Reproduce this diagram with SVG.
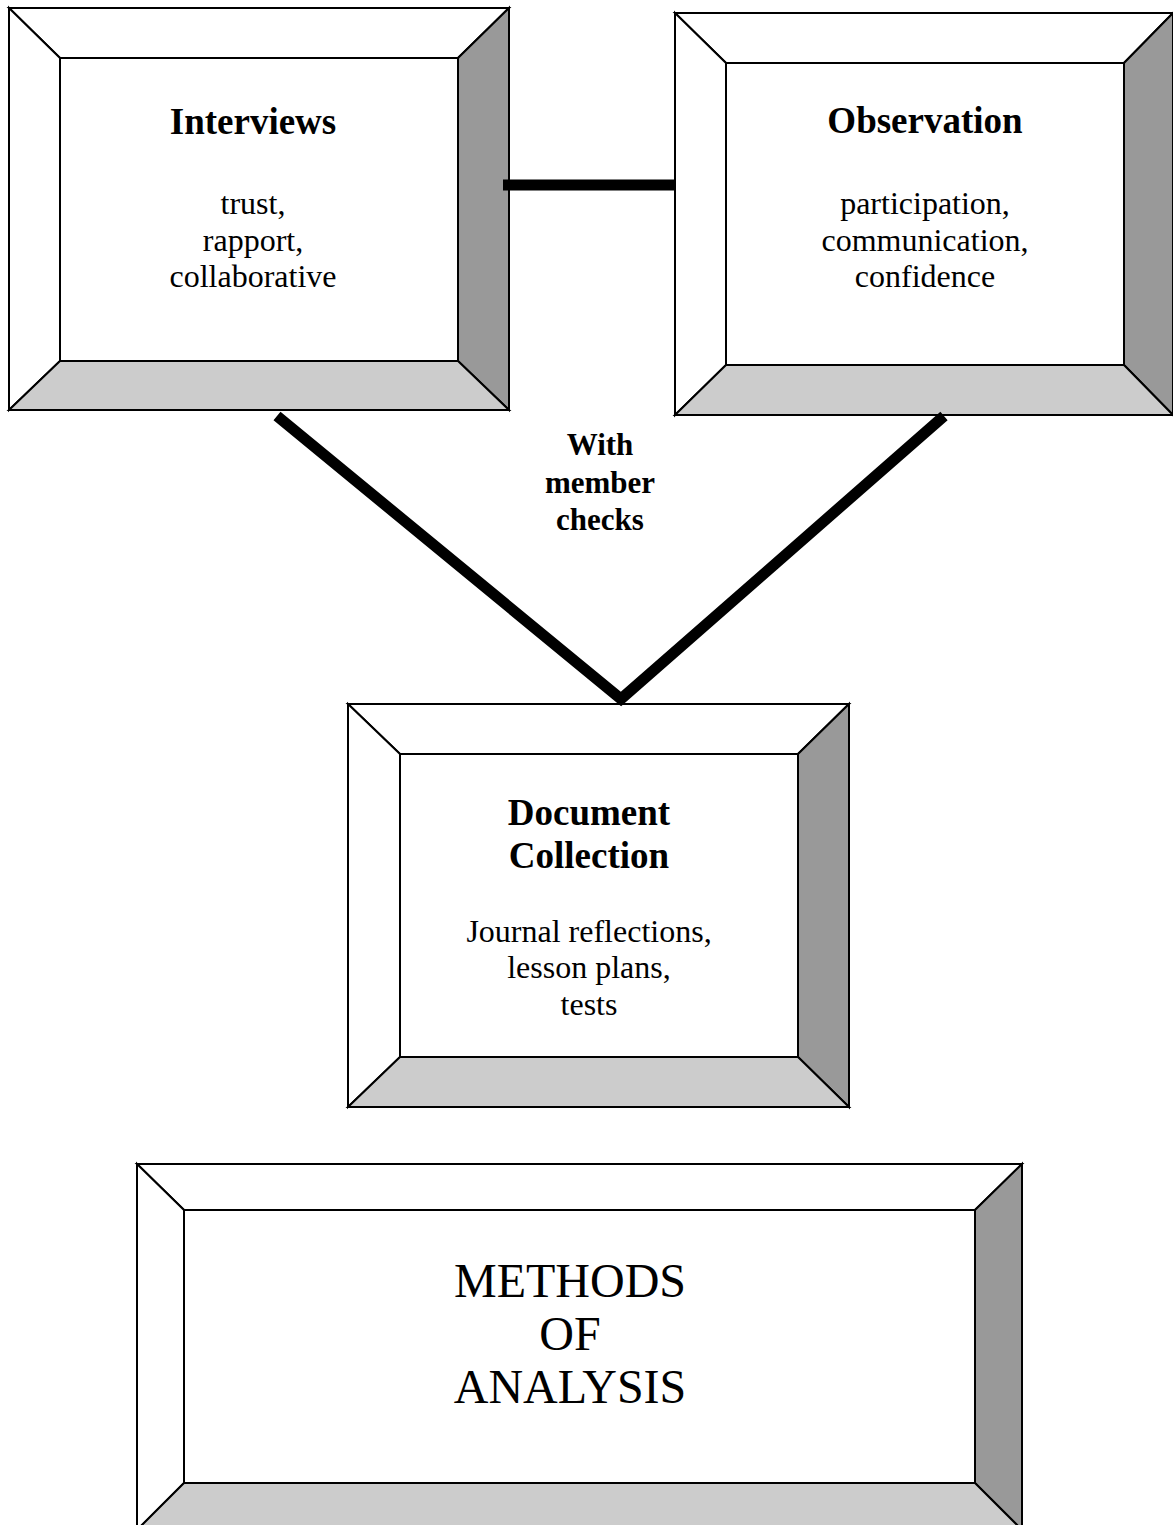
<svg xmlns="http://www.w3.org/2000/svg" width="1173" height="1525" viewBox="0 0 1173 1525">
<style>
.b{stroke:#000;stroke-width:2;stroke-linejoin:miter}
.w{fill:#fff}
.lg{fill:#cccccc}
.dg{fill:#999999}
.t{font-family:"Liberation Serif","Times New Roman",serif;fill:#000;text-anchor:middle}
.h{font-weight:bold;font-size:37px}
.s{font-size:32px}
.m{font-weight:bold;font-size:31px}
.big{font-size:48px}
.c{fill:none;stroke:#000;stroke-width:11}
</style>
<rect width="1173" height="1525" fill="#fff"/>
<g id="interviews">
<polygon class="b w" points="9,8 509,8 458,58 60,58"/>
<polygon class="b w" points="9,8 60,58 60,361 9,410"/>
<polygon class="b dg" points="509,8 509,410 458,361 458,58"/>
<polygon class="b lg" points="9,410 60,361 458,361 509,410"/>
<rect class="b w" x="60" y="58" width="398" height="303"/>
<text class="t h" x="253" y="134">Interviews</text>
<text class="t s" x="253" y="214">trust,</text>
<text class="t s" x="253" y="251">rapport,</text>
<text class="t s" x="253" y="287">collaborative</text>
</g>
<g id="observation">
<polygon class="b w" points="675,13 1173,13 1124,63 726,63"/>
<polygon class="b w" points="675,13 726,63 726,365 675,415"/>
<polygon class="b dg" points="1173,13 1173,415 1124,365 1124,63"/>
<polygon class="b lg" points="675,415 726,365 1124,365 1173,415"/>
<rect class="b w" x="726" y="63" width="398" height="302"/>
<text class="t h" x="925" y="133">Observation</text>
<text class="t s" x="925" y="214">participation,</text>
<text class="t s" x="925" y="251">communication,</text>
<text class="t s" x="925" y="287">confidence</text>
</g>
<g id="document">
<polygon class="b w" points="348,704 849,704 798,754 400,754"/>
<polygon class="b w" points="348,704 400,754 400,1057 348,1107"/>
<polygon class="b dg" points="849,704 849,1107 798,1057 798,754"/>
<polygon class="b lg" points="348,1107 400,1057 798,1057 849,1107"/>
<rect class="b w" x="400" y="754" width="398" height="303"/>
<text class="t h" x="589" y="825">Document</text>
<text class="t h" x="589" y="868">Collection</text>
<text class="t s" x="589" y="942">Journal reflections,</text>
<text class="t s" x="589" y="978">lesson plans,</text>
<text class="t s" x="589" y="1015">tests</text>
</g>
<g id="methods">
<polygon class="b w" points="137,1164 1022,1164 975,1210 184,1210"/>
<polygon class="b w" points="137,1164 184,1210 184,1483 137,1530"/>
<polygon class="b dg" points="1022,1164 1022,1530 975,1483 975,1210"/>
<polygon class="b lg" points="137,1530 184,1483 975,1483 1022,1530"/>
<rect class="b w" x="184" y="1210" width="791" height="273"/>
<text class="t big" x="570" y="1297">METHODS</text>
<text class="t big" x="570" y="1350">OF</text>
<text class="t big" x="570" y="1403">ANALYSIS</text>
</g>
<g id="connectors">
<line class="c" x1="503" y1="185" x2="675" y2="185"/>
<polyline class="c" points="277,416 621,699 944,416" stroke-linejoin="miter"/>
<text class="t m" x="600" y="455">With</text>
<text class="t m" x="600" y="493">member</text>
<text class="t m" x="600" y="530">checks</text>
</g>
</svg>
